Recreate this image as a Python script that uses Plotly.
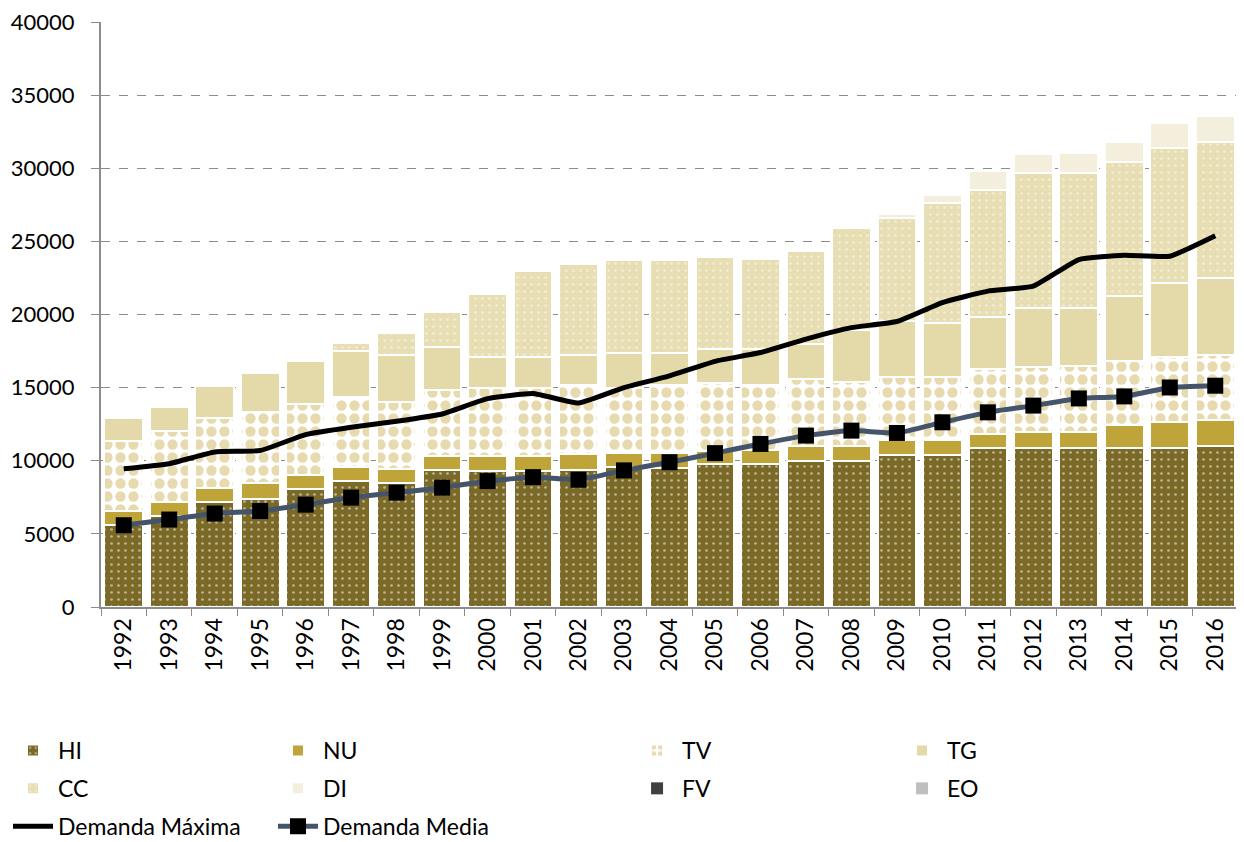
import plotly.graph_objects as go

years = ["1992", "1993", "1994", "1995", "1996", "1997", "1998", "1999", "2000",
         "2001", "2002", "2003", "2004", "2005", "2006", "2007", "2008", "2009",
         "2010", "2011", "2012", "2013", "2014", "2015", "2016"]

hi = [5600, 6200, 7200, 7400, 8050, 8600, 8500, 9350, 9300, 9300, 9400, 9600, 9500,
      9800, 9800, 10000, 10000, 10400, 10400, 10900, 10900, 10900, 10900, 10900, 11000]
nu = [950, 1000, 950, 1100, 1000, 950, 950, 1000, 1000, 1000, 1050, 900, 1000,
      900, 950, 1000, 1000, 1000, 1000, 950, 1050, 1050, 1550, 1750, 1800]
tv = [4800, 4850, 4800, 4800, 4850, 4800, 4600, 4500, 4700, 4700, 4700, 4500, 4650,
      4600, 4450, 4600, 4400, 4350, 4350, 4450, 4450, 4500, 4400, 4450, 4450]
tg = [1600, 1650, 2150, 2700, 2900, 3150, 3200, 2950, 2100, 2100, 2100, 2400, 2250,
      2350, 2450, 2400, 3550, 3800, 3650, 3500, 4050, 4000, 4400, 5050, 5250]
cc = [0, 0, 0, 0, 0, 550, 1500, 2400, 4300, 5900, 6200, 6300, 6350,
      6300, 6150, 6350, 6950, 7050, 8200, 8700, 9200, 9200, 9200, 9250, 9300]
di = [0, 0, 0, 0, 0, 0, 0, 0, 0, 0, 0, 0, 0,
      0, 0, 0, 0, 300, 600, 1300, 1300, 1400, 1350, 1700, 1750]
fv = [0] * 25
eo = [0] * 25

demanda_maxima = [9450, 9800, 10600, 10700, 11790, 12290, 12700, 13200, 14250, 14600,
                  13950, 15000, 15800, 16800, 17400, 18320, 19100, 19520, 20820, 21600,
                  21940, 23760, 24050, 23980, 25380]
demanda_media = [5590, 5980, 6390, 6560, 7000, 7480, 7820, 8160, 8610, 8880, 8700,
                 9340, 9900, 10520, 11150, 11720, 12060, 11900, 12630, 13310, 13770,
                 14260, 14400, 15010, 15130]

FONT = "Lato"

bars = [
    ("HI", hi, dict(shape=".", bgcolor="#7B6A27", fgcolor="#FFFFFF", size=7, solidity=0.12), "legend"),
    ("NU", nu, dict(shape=""), "legend2", "#BFA43A"),
    ("TV", tv, dict(shape=".", bgcolor="#FFFFFF", fgcolor="#CFB65E", size=13, solidity=0.5), "legend3"),
    ("TG", tg, dict(shape=""), "legend4", "#E4D9A9"),
    ("CC", cc, dict(shape=".", bgcolor="#E8DEB3", fgcolor="#FFFFFF", size=7, solidity=0.1), "legend"),
    ("DI", di, dict(shape=""), "legend2", "#F4EFDD"),
    ("FV", fv, dict(shape=""), "legend3", "#404040"),
    ("EO", eo, dict(shape=""), "legend4", "#BFBFBF"),
]

fig = go.Figure()

for b in bars:
    name, vals, pattern, leg = b[0], b[1], b[2], b[3]
    color = b[4] if len(b) > 4 else pattern["bgcolor"]
    fig.add_trace(
        go.Bar(
            x=years,
            y=vals,
            name=name,
            legend=leg,
            legendgroup=name,
            marker=dict(
                color=color,
                pattern=pattern,
                line=dict(color="#FFFFFF", width=2 if name not in ("FV", "EO") else 0),
            ),
        )
    )

fig.add_trace(
    go.Scatter(
        x=years,
        y=demanda_maxima,
        name="Demanda Máxima",
        legend="legend",
        legendgroup="dmax",
        mode="lines",
        line=dict(color="#000000", width=5, shape="spline", smoothing=0.4),
    )
)
fig.add_trace(
    go.Scatter(
        x=years,
        y=demanda_media,
        name="Demanda Media",
        legend="legend2",
        legendgroup="dmed",
        mode="lines+markers",
        line=dict(color="#44546A", width=5, shape="spline", smoothing=0.4),
        marker=dict(symbol="square", size=16, color="#000000"),
    )
)

# legends placed in container coordinates so they do not eat into the plot margins
legend_common = dict(
    orientation="v",
    xref="container",
    yref="container",
    yanchor="top",
    y=0.1355,
    xanchor="left",
    font=dict(family=FONT, size=23, color="#000000"),
    bgcolor="rgba(0,0,0,0)",
    tracegroupgap=5,
    itemwidth=40,
)

# page body adds an 8px margin, so the figure is sized to fit the window
fig.update_layout(
    barmode="stack",
    bargap=0.15,
    width=1236,
    height=834,
    margin=dict(l=93, r=6, t=14, b=235, autoexpand=False),
    paper_bgcolor="#FFFFFF",
    plot_bgcolor="#FFFFFF",
    font=dict(family=FONT, size=23, color="#000000"),
    legend=dict(legend_common, x=0.0),
    legend2=dict(legend_common, x=0.2144),
    legend3=dict(legend_common, x=0.5049),
    legend4=dict(legend_common, x=0.7193),
    xaxis=dict(
        type="category",
        range=[-0.5, 24.5],
        automargin=False,
        tickangle=-90,
        showline=True,
        linecolor="#8C8C8C",
        linewidth=2,
        ticks="outside",
        tickson="boundaries",
        ticklen=7,
        tickcolor="#8C8C8C",
        tickfont=dict(family=FONT, size=23),
    ),
    yaxis=dict(
        range=[0, 40000],
        tickvals=[0, 5000, 10000, 15000, 20000, 25000, 30000, 35000, 40000],
        tickformat="d",
        automargin=False,
        ticklabeloverflow="allow",
        showline=True,
        linecolor="#8C8C8C",
        linewidth=2,
        ticks="outside",
        ticklen=8,
        tickcolor="#8C8C8C",
        ticklabelstandoff=12,
        showgrid=True,
        gridcolor="#8C8C8C",
        griddash="dash",
        gridwidth=1,
        zeroline=False,
        tickfont=dict(family=FONT, size=22),
    ),
)

fig.write_html("out.html")
